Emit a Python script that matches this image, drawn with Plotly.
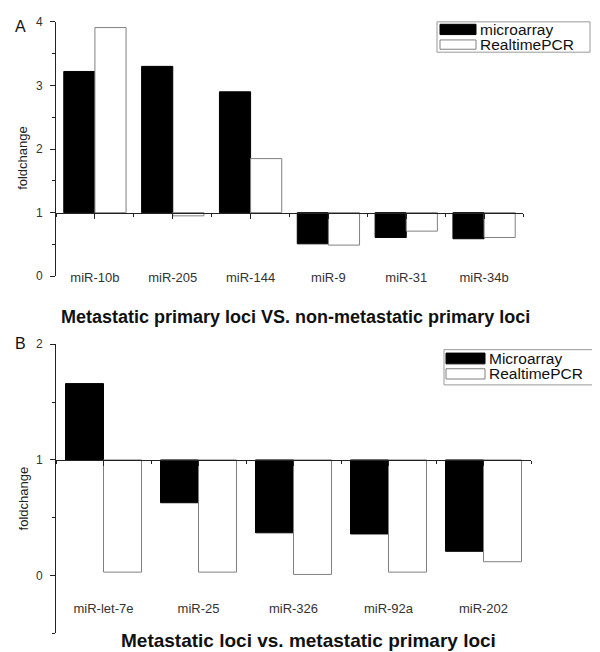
import plotly.graph_objects as go

W, H = 600, 652

# ---------------- data ----------------
cats_a = ["miR-10b", "miR-205", "miR-144", "miR-9", "miR-31", "miR-34b"]
micro_a = [3.22, 3.30, 2.90, 0.51, 0.61, 0.59]
pcr_a = [3.91, 0.95, 1.85, 0.49, 0.71, 0.61]

cats_b = ["miR-let-7e", "miR-25", "miR-326", "miR-92a", "miR-202"]
micro_b = [1.66, 0.63, 0.37, 0.36, 0.21]
pcr_b = [0.03, 0.03, 0.01, 0.03, 0.12]

baseline = 1.0
yrange_a = [0, 4]
yrange_b = [-0.5, 2]

legend_a = ["microarray", "RealtimePCR"]
legend_b = ["Microarray", "RealtimePCR"]
title_a = "Metastatic primary loci VS. non-metastatic primary loci"
title_b = "Metastatic loci vs. metastatic primary loci"

FONT = "Arial, Liberation Sans, sans-serif"


def fx(p):
    return p / W


def fy(p):
    return 1 - p / H


def bars(cats, vals, xa, ya, filled):
    return go.Bar(
        x=list(range(len(cats))),
        y=[v - baseline for v in vals],
        base=baseline,
        xaxis=xa, yaxis=ya,
        marker=dict(color="black" if filled else "white",
                    line=dict(color="black" if filled else "#808080", width=1)),
        showlegend=False,
        hoverinfo="skip",
    )


fig = go.Figure()
fig.add_trace(bars(cats_a, micro_a, "x", "y", True))
fig.add_trace(bars(cats_a, pcr_a, "x", "y", False))
fig.add_trace(bars(cats_b, micro_b, "x2", "y2", True))
fig.add_trace(bars(cats_b, pcr_b, "x2", "y2", False))

dom_ya = [fy(267), fy(7)]
dom_yb = [fy(632), fy(336.5)]


def base_pos(dom, rng):
    return dom[0] + (baseline - rng[0]) / (rng[1] - rng[0]) * (dom[1] - dom[0])


axis_common = dict(showgrid=False, zeroline=False, showline=True,
                   linecolor="#222222", linewidth=1, ticks="outside",
                   tickcolor="#222222", ticklen=5,
                   tickfont=dict(family=FONT, size=13, color="#333333"))

xa = dict(axis_common)
xa.update(domain=[fx(48), fx(515)], range=[-0.5, len(cats_a) - 0.5],
          tickmode="array", tickvals=list(range(len(cats_a))), ticktext=cats_a,
          anchor="free", position=base_pos(dom_ya, yrange_a),
          ticklabelstandoff=48,
          minor=dict(tickmode="linear", tick0=0.5, dtick=1, ticks="outside",
                     ticklen=3, tickcolor="#222222"))
ya = dict(axis_common)
ya.update(domain=dom_ya, range=yrange_a, anchor="x", dtick=1, tick0=0,
          ticklabelstandoff=5,
          tickfont=dict(family=FONT, size=12, color="#333333"),
          minor=dict(dtick=0.5, ticks="outside", ticklen=3, tickcolor="#222222"))

xb = dict(axis_common)
xb.update(domain=[fx(48), fx(523)], range=[-0.5, len(cats_b) - 0.5],
          tickmode="array", tickvals=list(range(len(cats_b))), ticktext=cats_b,
          anchor="free", position=base_pos(dom_yb, yrange_b),
          ticklabelstandoff=131,
          tickfont=dict(family=FONT, size=13, color="#333333"),
          minor=dict(tickmode="linear", tick0=0.5, dtick=1, ticks="outside",
                     ticklen=3, tickcolor="#222222"))
yb = dict(axis_common)
yb.update(domain=dom_yb, range=yrange_b, anchor="x2", tickmode="array",
          tickvals=[0, 1, 2], ticklabelstandoff=5,
          tickfont=dict(family=FONT, size=12, color="#333333"),
          minor=dict(tickmode="array", tickvals=[-0.5, 0.5, 1.5], ticks="outside",
                     ticklen=3, tickcolor="#222222"))

shapes = []
annotations = []


def legend(box, sw_x, sw_w, rows, labels, text_x, fs):
    x0, y0, x1, y1 = box
    shapes.append(dict(type="rect", xref="paper", yref="paper",
                       x0=fx(x0), x1=fx(x1), y0=fy(y1), y1=fy(y0),
                       line=dict(color="#999999", width=1), fillcolor="white"))
    for (ry0, ry1), lab, filled in zip(rows, labels, [True, False]):
        shapes.append(dict(type="rect", xref="paper", yref="paper",
                           x0=fx(sw_x), x1=fx(sw_x + sw_w), y0=fy(ry1), y1=fy(ry0),
                           line=dict(color="black" if filled else "#808080", width=1),
                           fillcolor="black" if filled else "white"))
        annotations.append(dict(text=lab, xref="paper", yref="paper",
                                x=fx(text_x), y=fy((ry0 + ry1) / 2),
                                xanchor="left", yanchor="middle", showarrow=False,
                                borderpad=0,
                                font=dict(family=FONT, size=fs, color="#111111")))


legend((429, 7, 582, 38), 432, 36, [(9.5, 20), (25.5, 35)], legend_a, 471, 15.5)
legend((436, 342, 591, 378), 438, 39, [(345.5, 356.5), (361.5, 372)], legend_b, 480, 15.5)


def text(t, x, y, size, bold=False, angle=0, color="#111111", anchor="center"):
    annotations.append(dict(text=f"<b>{t}</b>" if bold else t, xref="paper", yref="paper",
                            x=fx(x), y=fy(y), xanchor=anchor, yanchor="middle",
                            showarrow=False, textangle=angle,
                            font=dict(family=FONT, size=size, color=color)))


text("A", 5, 12, 16, anchor="left")
text("B", 5, 336, 16, anchor="left")
text("foldchange", 15, 146, 13, angle=-90, color="#222222")
text("foldchange", 15, 494, 13, angle=-90, color="#222222")
text(title_a, 287, 309, 18, bold=True)
text(title_b, 300, 639, 19, bold=True)

fig.update_layout(
    width=W, height=H, margin=dict(l=0, r=0, t=0, b=0),
    paper_bgcolor="white", plot_bgcolor="white",
    barmode="group", bargap=0.2, bargroupgap=0,
    xaxis=xa, yaxis=ya, xaxis2=xb, yaxis2=yb,
    shapes=shapes, annotations=annotations,
    font=dict(family=FONT),
)

fig.write_html("out.html")
